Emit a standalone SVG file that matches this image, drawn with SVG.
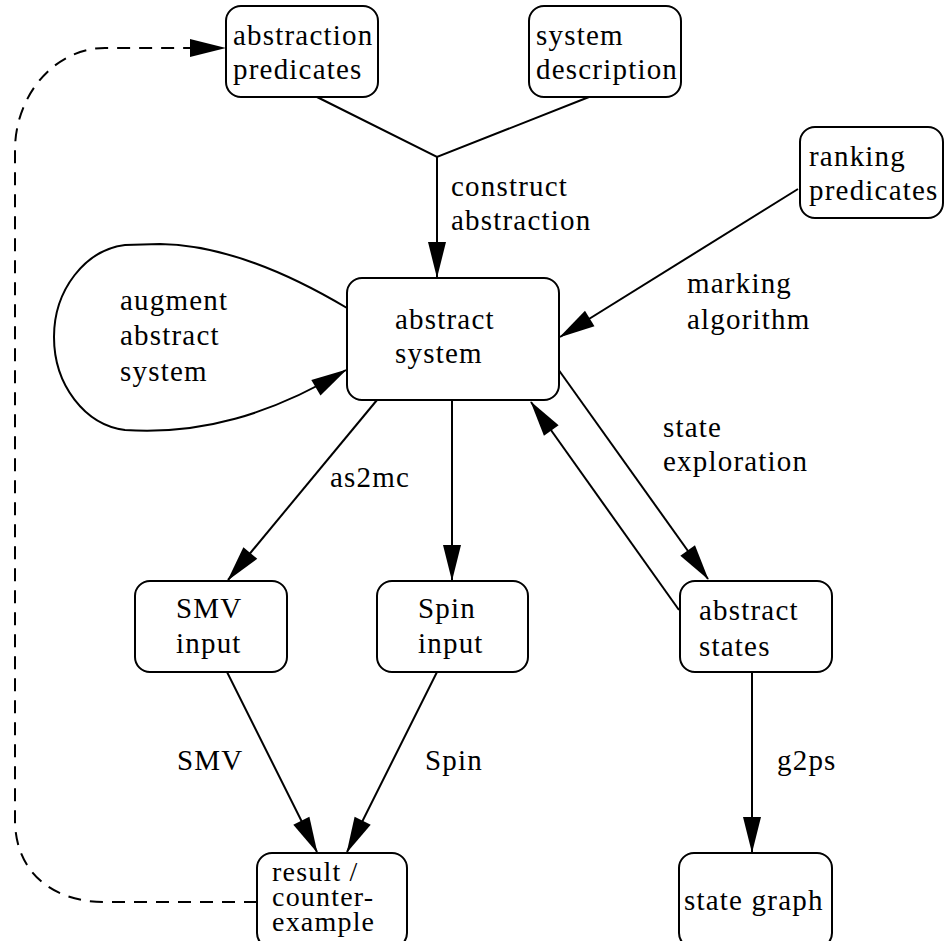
<svg xmlns="http://www.w3.org/2000/svg" width="945" height="941" viewBox="0 0 945 941">
<defs>
<marker id="ah" markerUnits="userSpaceOnUse" markerWidth="36" markerHeight="18" refX="35" refY="9" orient="auto" overflow="visible">
<path d="M0,0 L36,9 L0,18 Z" fill="#000" stroke="none"/>
</marker>
</defs>
<rect width="945" height="941" fill="#fff"/>
<g id="connectors" fill="none" stroke="#000" stroke-width="2">
<path d="M317,97 L437,157 L589,97"/>
<path d="M437,157 L437,277" marker-end="url(#ah)"/>
<path d="M798,189 L560,337" marker-end="url(#ah)"/>
<path d="M347,308 C300,280 230,245 160,244 L125,245 C85,250 54,290 54,337 C54,385 85,425 125,430 C200,435 270,415 346,370" marker-end="url(#ah)"/>
<path d="M558,369 L708,579" marker-end="url(#ah)"/>
<path d="M679,610 L531,402" marker-end="url(#ah)"/>
<path d="M377,400 L228,580" marker-end="url(#ah)"/>
<path d="M452,400 L452,580" marker-end="url(#ah)"/>
<path d="M227,672 L317,852" marker-end="url(#ah)"/>
<path d="M437,672 L347,852" marker-end="url(#ah)"/>
<path d="M752,672 L752,852" marker-end="url(#ah)"/>
<path stroke-dasharray="13 9" d="M257,902 L105,902 C50,902 15,870 15,820 L15,150 C15,95 55,48 105,48 L225,48" marker-end="url(#ah)"/>
</g>
<g id="edge-labels" font-family="Liberation Serif, serif" font-size="29" letter-spacing="1.2" fill="#000">
<text x="451" y="196">construct</text>
<text x="451" y="230">abstraction</text>
<text x="687" y="293">marking</text>
<text x="687" y="329">algorithm</text>
<text x="120" y="310">augment</text>
<text x="120" y="345">abstract</text>
<text x="120" y="381">system</text>
<text x="663" y="437">state</text>
<text x="663" y="471">exploration</text>
<text x="330" y="487">as2mc</text>
<text x="177" y="770">SMV</text>
<text x="425" y="770">Spin</text>
<text x="777" y="770">g2ps</text>
</g>
<g id="abstraction-predicates" font-family="Liberation Serif, serif" font-size="29" letter-spacing="1.2">
<rect x="226" y="6" width="152" height="91" rx="15" fill="#fff" stroke="#000" stroke-width="2"/>
<text x="233" y="45">abstraction</text>
<text x="233" y="79">predicates</text>
</g>
<g id="system-description" font-family="Liberation Serif, serif" font-size="29" letter-spacing="1.2">
<rect x="529" y="6" width="152" height="91" rx="15" fill="#fff" stroke="#000" stroke-width="2"/>
<text x="536" y="45">system</text>
<text x="536" y="79">description</text>
</g>
<g id="ranking-predicates" font-family="Liberation Serif, serif" font-size="29" letter-spacing="1.2">
<rect x="800" y="127" width="143" height="91" rx="15" fill="#fff" stroke="#000" stroke-width="2"/>
<text x="809" y="166">ranking</text>
<text x="809" y="200">predicates</text>
</g>
<g id="abstract-system" font-family="Liberation Serif, serif" font-size="29" letter-spacing="1.2">
<rect x="347" y="278" width="212" height="122" rx="15" fill="#fff" stroke="#000" stroke-width="2"/>
<text x="395" y="329">abstract</text>
<text x="395" y="363">system</text>
</g>
<g id="smv-input" font-family="Liberation Serif, serif" font-size="29" letter-spacing="1.2">
<rect x="135" y="581" width="152" height="91" rx="15" fill="#fff" stroke="#000" stroke-width="2"/>
<text x="176" y="618">SMV</text>
<text x="176" y="653">input</text>
</g>
<g id="spin-input" font-family="Liberation Serif, serif" font-size="29" letter-spacing="1.2">
<rect x="377" y="581" width="151" height="91" rx="15" fill="#fff" stroke="#000" stroke-width="2"/>
<text x="418" y="618">Spin</text>
<text x="418" y="653">input</text>
</g>
<g id="abstract-states" font-family="Liberation Serif, serif" font-size="29" letter-spacing="1.2">
<rect x="680" y="581" width="152" height="91" rx="15" fill="#fff" stroke="#000" stroke-width="2"/>
<text x="699" y="620">abstract</text>
<text x="699" y="656">states</text>
</g>
<g id="result" font-family="Liberation Serif, serif" font-size="28" letter-spacing="1.2">
<rect x="257" y="853" width="150" height="95" rx="15" fill="#fff" stroke="#000" stroke-width="2"/>
<text x="272" y="881">result /</text>
<text x="272" y="906">counter-</text>
<text x="272" y="931">example</text>
</g>
<g id="state-graph" font-family="Liberation Serif, serif" font-size="29" letter-spacing="1.2">
<rect x="679" y="853" width="153" height="95" rx="15" fill="#fff" stroke="#000" stroke-width="2"/>
<text x="684" y="910">state graph</text>
</g>
</svg>
